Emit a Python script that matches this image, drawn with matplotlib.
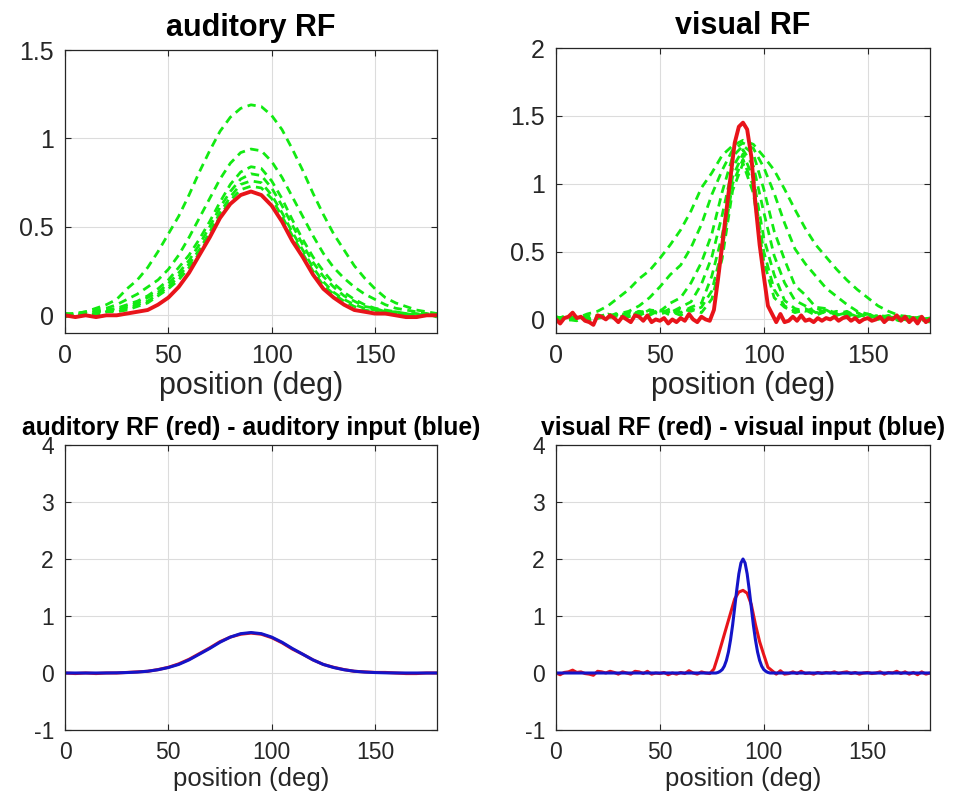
import numpy as np
import matplotlib
matplotlib.use("Agg")
import matplotlib.pyplot as plt
from matplotlib.ticker import FuncFormatter

plt.rcParams['font.family'] = ['Liberation Sans', 'DejaVu Sans']

# ---------------- data ----------------
pos5 = np.arange(0, 181, 5)      # 0..180 step 5 (37 points)
pos2 = np.arange(0, 181, 2)      # 0..180 step 2 (91 points)

# auditory RF - green dashed (successive iterations)
aud_g1 = [0.01,0.01,0.02,0.04,0.06,0.09,0.15,0.20,0.27,0.36,0.46,0.56,0.68,0.81,0.93,1.04,1.12,1.17,1.19,
          1.18,1.13,1.05,0.94,0.82,0.69,0.57,0.46,0.37,0.28,0.21,0.15,0.10,0.07,0.05,0.03,0.02,0.01]
aud_g2 = [0.00,0.01,0.02,0.03,0.04,0.06,0.09,0.12,0.16,0.20,0.26,0.34,0.44,0.55,0.66,0.77,0.86,0.92,0.94,
          0.93,0.87,0.78,0.67,0.56,0.45,0.35,0.27,0.21,0.16,0.12,0.09,0.06,0.04,0.03,0.02,0.01,0.00]
aud_g3 = [0.00,0.01,0.01,0.02,0.03,0.04,0.06,0.08,0.11,0.15,0.20,0.27,0.34,0.43,0.53,0.64,0.74,0.81,0.84,
          0.83,0.76,0.66,0.54,0.43,0.33,0.25,0.18,0.13,0.09,0.06,0.04,0.03,0.02,0.01,0.01,0.00,0.00]
aud_g4 = [0.01,0.00,0.01,0.02,0.02,0.04,0.05,0.07,0.10,0.13,0.18,0.24,0.31,0.40,0.50,0.61,0.70,0.77,0.80,
          0.79,0.72,0.62,0.51,0.40,0.30,0.22,0.16,0.11,0.08,0.05,0.04,0.02,0.02,0.01,0.00,0.01,-0.01]
aud_g5 = [-0.01,0.01,0.00,0.01,0.02,0.03,0.04,0.06,0.08,0.12,0.16,0.22,0.29,0.37,0.47,0.58,0.67,0.74,0.76,
          0.75,0.68,0.58,0.47,0.37,0.27,0.19,0.13,0.09,0.06,0.04,0.03,0.02,0.01,0.01,-0.01,0.00,0.00]
aud_g6 = [0.00,-0.01,0.01,0.00,0.02,0.02,0.03,0.05,0.07,0.11,0.15,0.20,0.27,0.35,0.45,0.56,0.65,0.71,0.73,
          0.72,0.66,0.56,0.45,0.35,0.25,0.17,0.12,0.08,0.05,0.03,0.02,0.01,0.01,0.00,-0.01,0.01,0.00]
aud_greens = [aud_g1, aud_g2, aud_g3, aud_g4, aud_g5, aud_g6]

# auditory RF (final, red) and auditory input (blue)
aud_rf = [0.00,-0.01,0.00,-0.01,0.00,0.00,0.01,0.02,0.03,0.06,0.10,0.16,0.24,0.34,0.44,0.55,0.63,0.68,0.70,
          0.68,0.62,0.53,0.42,0.33,0.23,0.15,0.10,0.06,0.03,0.02,0.01,0.01,0.00,-0.01,-0.01,0.00,0.00]
aud_in = [0.0,0.0,0.0,0.0,0.001,0.003,0.008,0.016,0.031,0.057,0.096,0.15,0.23,0.33,0.43,0.54,0.63,0.69,0.71,
          0.69,0.63,0.54,0.43,0.33,0.23,0.15,0.096,0.057,0.031,0.016,0.008,0.003,0.001,0.0,0.0,0.0,0.0]

# visual RF - green dashed (successive iterations)
vis_g1 = [0.01,0.02,0.01,0.04,0.06,0.10,0.16,0.22,0.30,0.36,0.45,0.55,0.66,0.80,0.97,1.08,1.21,1.28,1.32,
          1.29,1.20,1.10,0.96,0.81,0.67,0.55,0.46,0.37,0.29,0.22,0.16,0.10,0.06,0.03,0.02,0.01,0.00]
vis_g2 = [0.02,-0.01,0.01,0.00,0.01,0.02,0.04,0.06,0.10,0.16,0.24,0.33,0.40,0.53,0.70,0.92,1.10,1.25,1.30,
          1.26,1.12,0.93,0.71,0.52,0.41,0.32,0.23,0.17,0.11,0.06,0.04,0.02,0.01,0.02,0.00,0.01,-0.01]
vis_g3 = [0.00,0.03,-0.01,0.02,0.01,0.04,0.01,0.05,0.03,0.07,0.06,0.12,0.16,0.27,0.42,0.63,0.94,1.20,1.28,
          1.22,0.96,0.65,0.44,0.25,0.18,0.09,0.08,0.04,0.06,0.02,0.04,0.01,0.03,0.00,0.02,-0.01,0.01]
vis_g4 = [0.01,-0.01,0.02,0.00,0.03,0.01,0.04,0.02,0.06,0.03,0.07,0.05,0.09,0.13,0.26,0.46,0.77,1.12,1.25,
          1.13,0.79,0.47,0.27,0.14,0.10,0.05,0.07,0.03,0.05,0.02,0.04,0.00,0.02,0.01,-0.01,0.02,0.00]
vis_g5 = [0.00,0.02,0.01,-0.01,0.02,0.04,0.02,0.05,0.03,0.06,0.04,0.08,0.05,0.09,0.12,0.32,0.62,1.05,1.22,
          1.04,0.60,0.33,0.14,0.08,0.06,0.09,0.04,0.06,0.03,0.05,0.01,0.03,0.02,0.00,0.02,0.00,0.01]
vis_g6 = [0.02,0.00,-0.01,0.03,0.01,0.02,0.05,0.03,0.06,0.04,0.07,0.03,0.08,0.06,0.09,0.21,0.52,1.00,1.18,
          0.98,0.50,0.22,0.10,0.06,0.08,0.04,0.07,0.03,0.05,0.02,0.04,0.01,0.02,-0.01,0.01,0.00,-0.02]
vis_g7 = [-0.01,0.02,0.01,0.00,0.03,0.01,0.04,0.02,0.05,0.07,0.04,0.06,0.03,0.08,0.05,0.15,0.45,0.95,1.15,
          0.93,0.43,0.16,0.09,0.05,0.07,0.03,0.06,0.04,0.02,0.05,0.01,0.03,0.00,0.02,0.01,-0.01,0.01]
vis_greens = [vis_g1, vis_g2, vis_g3, vis_g4, vis_g5, vis_g6, vis_g7]

# visual RF (final, red), sampled every 2 deg
vis_rf = [0.00,-0.03,0.01,0.02,0.05,0.01,0.02,-0.01,-0.02,-0.04,0.03,0.02,0.00,0.03,0.01,-0.02,0.02,0.00,-0.02,0.03,
          0.02,-0.01,0.03,-0.02,0.00,-0.01,0.01,-0.03,0.00,-0.02,0.01,-0.01,0.04,0.00,-0.02,0.02,0.00,-0.01,0.07,0.30,
          0.55,0.80,1.05,1.30,1.42,1.45,1.40,1.20,0.85,0.55,0.32,0.10,0.04,-0.02,0.04,-0.02,-0.01,0.02,-0.01,0.03,
          -0.01,0.00,-0.02,0.01,-0.01,0.01,0.00,0.02,-0.01,0.01,0.02,-0.01,0.01,-0.02,0.00,0.01,-0.01,0.00,0.02,-0.02,
          0.01,0.00,0.03,-0.01,0.02,-0.02,0.01,-0.03,0.02,-0.02,0.00]

# visual input (blue)
vis_in_pos = [0] + list(range(72, 109)) + [180]
vis_in = [0.0] + [0.0,0.0,0.0,0.0,0.0,0.0,0.01,0.03,0.06,0.12,0.22,0.37,0.58,0.84,1.15,1.46,1.74,1.93,2.00,
                  1.93,1.74,1.46,1.15,0.84,0.58,0.37,0.22,0.12,0.06,0.03,0.01,0.0,0.0,0.0,0.0,0.0,0.0] + [0.0]

# ---------------- styling ----------------
GREEN = '#12ea12'
RED = '#e8141a'
BLUE = '#1414c8'
AXC = '#262626'

fig = plt.figure(figsize=(9.58, 7.94), dpi=100)

W = 958.0
H = 794.0
def rect(l, t, r, b):
    return [l / W, 1 - b / H, (r - l) / W, (b - t) / H]

ax1 = fig.add_axes(rect(65, 50, 437, 333))
ax2 = fig.add_axes(rect(556, 48, 930, 333))
ax3 = fig.add_axes(rect(65, 445, 437, 730))
ax4 = fig.add_axes(rect(556, 445, 930, 730))

fmt = FuncFormatter(lambda v, p: '%g' % v)

def style(ax, yticks, ylim, tick_fs, label_fs, title, title_fs, title_pad):
    ax.set_xlim(0, 180)
    ax.set_ylim(*ylim)
    ax.set_xticks([0, 50, 100, 150])
    ax.set_yticks(yticks)
    ax.yaxis.set_major_formatter(fmt)
    ax.grid(True, color='#dcdcdc', lw=0.8)
    ax.set_axisbelow(True)
    for s in ax.spines.values():
        s.set_color(AXC)
        s.set_linewidth(0.9)
    ax.tick_params(direction='in', length=4, width=0.8, colors=AXC,
                   top=True, right=True, labelsize=tick_fs, pad=8)
    ax.set_xlabel('position (deg)', fontsize=label_fs, color=AXC, labelpad=2)
    ax.set_title(title, fontsize=title_fs, fontweight='bold', pad=title_pad)

# top-left
for g in aud_greens:
    ax1.plot(pos5, g, color=GREEN, lw=2, dashes=(3, 2))
ax1.plot(pos5, aud_rf, color=RED, lw=2.8)
style(ax1, [0, 0.5, 1, 1.5], (-0.1, 1.5), 18, 22, 'auditory RF', 22, 10)

# top-right
for g in vis_greens:
    ax2.plot(pos5, g, color=GREEN, lw=2, dashes=(3, 2))
ax2.plot(pos2, vis_rf, color=RED, lw=2.8)
style(ax2, [0, 0.5, 1, 1.5, 2], (-0.1, 2), 18, 22, 'visual RF', 22, 10)

# bottom-left
ax3.plot(pos5, aud_rf, color=RED, lw=2.2)
ax3.plot(pos5, aud_in, color=BLUE, lw=2.2)
style(ax3, [-1, 0, 1, 2, 3, 4], (-1, 4), 16.5, 18.5,
      'auditory RF (red) - auditory input (blue)', 17.7, 7)

# bottom-right
ax4.plot(pos2, vis_rf, color=RED, lw=2.2)
ax4.plot(vis_in_pos, vis_in, color=BLUE, lw=2.2)
style(ax4, [-1, 0, 1, 2, 3, 4], (-1, 4), 16.5, 18.5,
      'visual RF (red) - visual input (blue)', 17.7, 7)

fig.savefig('out.png', dpi=100)
